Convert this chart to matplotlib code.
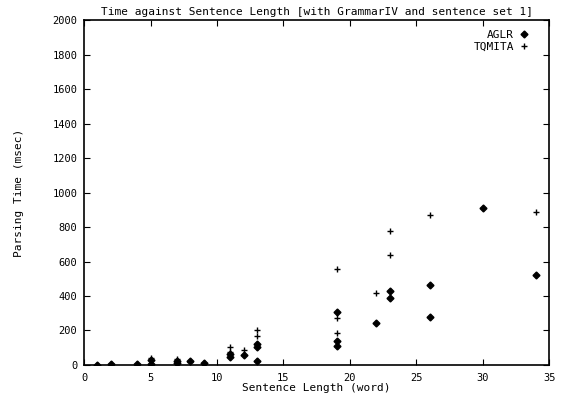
import numpy as np
import matplotlib
matplotlib.use('Agg')
import matplotlib.pyplot as plt

plt.rc('font', family='DejaVu Sans Mono')

# AGLR timings (sentence length in words, parsing time in msec)
aglr_len = [1, 2, 4, 5, 5, 7, 7, 8, 9, 11, 11, 12, 13, 13, 13,
            19, 19, 19, 22, 23, 23, 26, 26, 30, 34]
aglr_time = [2, 3, 5, 30, 5, 25, 10, 25, 10, 64, 45, 58, 122, 106, 22,
             310, 140, 110, 245, 430, 390, 465, 280, 910, 520]

# TOMITA timings
tomita_len = [1, 2, 4, 5, 7, 8, 9, 11, 11, 12, 13, 13, 13,
              19, 19, 19, 22, 23, 23, 26, 34]
tomita_time = [2, 3, 5, 40, 35, 20, 10, 103, 78, 87, 205, 170, 25,
               555, 275, 185, 420, 775, 640, 870, 890]

xticks = np.arange(0, 36, 5)
yticks = np.arange(0, 2001, 200)

fig = plt.figure(figsize=(5.65, 3.95), dpi=100)
ax = fig.add_axes([0.149, 0.076, 0.823, 0.873])

ax.plot(aglr_len, aglr_time, 'kD', markersize=3.5, linestyle='none', label='AGLR')
ax.plot(tomita_len, tomita_time, 'k+', markersize=5, markeredgewidth=1.0,
        linestyle='none', label='TQMITA')

ax.set_xlim(0, 35)
ax.set_ylim(0, 2000)
ax.set_xticks(xticks)
ax.set_yticks(yticks)
ax.tick_params(direction='in', top=True, right=True, length=4, labelsize=7.5)
ax.tick_params(axis='x', pad=6)
ax.tick_params(axis='y', pad=5)
for s in ax.spines.values():
    s.set_linewidth(1.2)

ax.set_title('Time against Sentence Length [with GrammarIV and sentence set 1]',
             fontsize=8, pad=4)
ax.set_xlabel('Sentence Length (word)', fontsize=8, labelpad=0)
ax.set_ylabel('Parsing Time (msec)', fontsize=8, labelpad=20)

leg = ax.legend(loc='upper right', bbox_to_anchor=(0.965, 0.985), frameon=False,
                fontsize=8, markerfirst=False, handlelength=0.8,
                handletextpad=0.5, labelspacing=0.15, borderaxespad=0.0)
for t in leg.get_texts():
    t.set_ha('right')

fig.savefig('out.png', dpi=100)
plt.close()
